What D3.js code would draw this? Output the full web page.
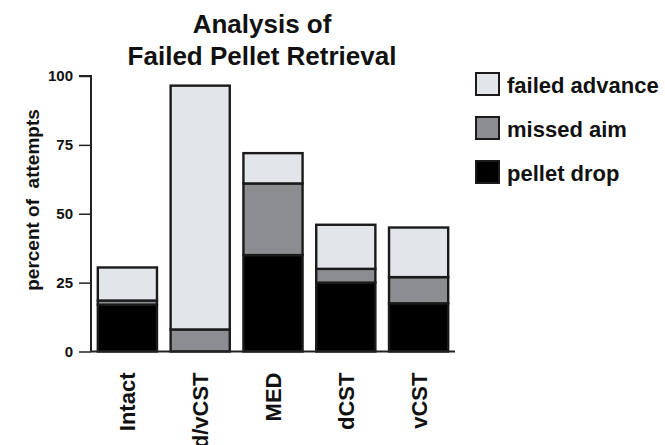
<!DOCTYPE html>
<html><head><meta charset="utf-8">
<script src="https://cdn.jsdelivr.net/npm/d3@7"></script>
<style>body{margin:0;background:#fff}text{font-family:"Liberation Sans",Arial,sans-serif;font-weight:bold;fill:#111}</style>
</head><body><svg id="c" width="665" height="445"></svg>
<script>
const categories = ["Intact","d/vCST","MED","dCST","vCST"];
const pelletDrop = [17, 0, 35, 25, 17.5];
const missedAim = [1.5, 8, 26, 5, 9.5];
const failedAdvance = [12, 88.5, 11, 16, 18];
const seriesNames = ["pellet drop","missed aim","failed advance"];
const yTicks = [0,25,50,75,100];
const titleLines = ["Analysis of","Failed Pellet Retrieval"];
const yLabel = "percent of  attempts";

const colors = {"pellet drop":"#000000","missed aim":"#8b8d90","failed advance":"#e2e6ea"};
const svg = d3.select("#c");
const x = d3.scaleBand().domain(categories).range([91,455]).paddingInner(0.16).paddingOuter(0.08);
const y = d3.scaleLinear().domain([0,100]).range([351.5,76]);

const table = categories.map((c,i)=>({cat:c,"pellet drop":pelletDrop[i],"missed aim":missedAim[i],"failed advance":failedAdvance[i]}));
const stacked = d3.stack().keys(seriesNames)(table);

svg.append("g").selectAll("g").data(stacked).join("g")
  .attr("fill",d=>colors[d.key])
  .selectAll("rect").data(d=>d.filter(p=>p[1]-p[0]>0)).join("rect")
  .attr("x",d=>x(d.data.cat)+1).attr("width",x.bandwidth()-2)
  .attr("y",d=>y(d[1])).attr("height",d=>y(d[0])-y(d[1]))
  .attr("stroke","#1a1a1a").attr("stroke-width",2.4);

// axes
const yAxis = d3.axisLeft(y).tickValues(yTicks).tickSize(12).tickPadding(6);
const gy = svg.append("g").attr("transform","translate(91,0)").call(yAxis);
gy.select(".domain").attr("stroke","#222").attr("stroke-width",2).attr("d","M-12,76H0V351.5");
gy.selectAll(".tick line").attr("stroke","#222").attr("stroke-width",1.5);
gy.selectAll(".tick text").style("font-size","15px").style("font-family","Liberation Sans, Arial").style("font-weight","bold").attr("fill","#111");

const xAxis = d3.axisBottom(x).tickSize(0).tickPadding(0);
const gx = svg.append("g").attr("transform","translate(0,351.5)").call(xAxis);
gx.select(".domain").attr("stroke","#222").attr("stroke-width",2).attr("d","M91,0H455");
gx.selectAll(".tick text").style("font-size","22px").style("font-family","Liberation Sans, Arial").style("font-weight","bold").attr("fill","#111")
  .attr("transform","rotate(-90)").attr("text-anchor","end").attr("x",-21).attr("y",0).attr("dy","0.36em");

// y label
svg.append("text").attr("transform","translate(39,200) rotate(-90)").attr("text-anchor","middle")
  .style("font-size","19px").attr("xml:space","preserve").text(yLabel);

// title
svg.append("g").selectAll("text").data(titleLines).join("text")
  .attr("x",262).attr("y",(d,i)=>33+i*32).attr("text-anchor","middle").style("font-size","26px").text(d=>d);

// legend
const legendOrder = ["failed advance","missed aim","pellet drop"];
const lg = svg.append("g").selectAll("g").data(legendOrder).join("g")
  .attr("transform",(d,i)=>`translate(476,${73+i*44})`);
lg.append("rect").attr("width",23).attr("height",22).attr("fill",d=>colors[d]).attr("stroke","#1a1a1a").attr("stroke-width",2);
lg.append("text").attr("x",31).attr("y",20).style("font-size","22px").text(d=>d);
</script></body></html>
